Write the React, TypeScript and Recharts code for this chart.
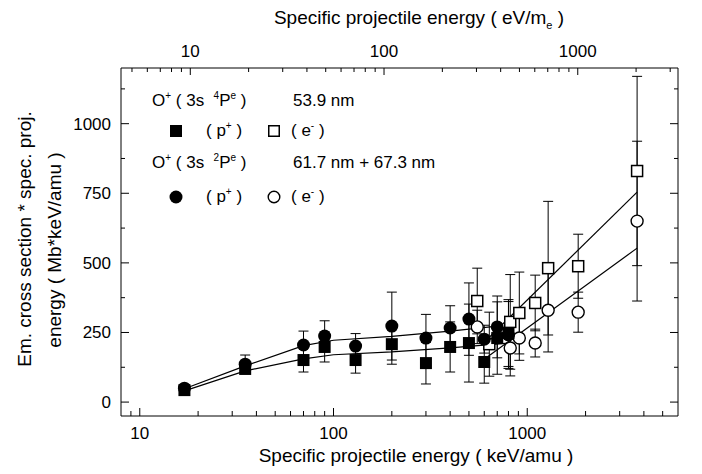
import React from 'react';
import { ScatterChart, Scatter, XAxis, YAxis, ErrorBar } from 'recharts';

// keV/amu -> eV/m_e
const KEV_AMU_TO_EV_ME = 1000 / 1822.888;

const xDomain = [8, 6000];
const yDomain = [-50, 1200];

const bottomTicks = [9, 10, 20, 30, 40, 50, 60, 70, 80, 90, 100, 200, 300, 400, 500, 600, 700, 800, 900, 1000, 2000, 3000, 4000, 5000];
const topTicks = [5, 6, 7, 8, 9, 10, 20, 30, 40, 50, 60, 70, 80, 90, 100, 200, 300, 400, 500, 600, 700, 800, 900, 1000, 2000, 3000];
const yTicks = [0, 125, 250, 375, 500, 625, 750, 875, 1000, 1125];

// O+ (3s 4Pe) 53.9 nm, proton impact
const p4PEnergy = [17, 35, 70, 90, 130, 200, 300, 400, 500, 600, 700, 800];
const p4PValue = [43, 119, 151, 198, 151, 208, 140, 198, 212, 144, 230, 248];
const p4PError = [8, 15, 43, 54, 47, 72, 75, 90, 140, 76, 130, 120];

// O+ (3s 2Pe) 61.7 + 67.3 nm, proton impact
const p2PEnergy = [17, 35, 70, 90, 130, 200, 300, 400, 500, 600, 700, 800];
const p2PValue = [50, 136, 205, 237, 201, 273, 230, 266, 298, 226, 270, 241];
const p2PError = [8, 33, 50, 55, 45, 122, 85, 80, 130, 50, 111, 120];

// electron impact
const e4PEnergy = [552, 637, 817, 910, 1099, 1282, 1832, 3690];
const e4PValue = [363, 208, 288, 320, 356, 481, 488, 830];
const e4PError = [118, 115, 170, 147, 100, 240, 115, 340];

const e2PEnergy = [552, 817, 910, 1099, 1282, 1832, 3690];
const e2PValue = [270, 194, 230, 212, 330, 323, 650];
const e2PError = [60, 100, 80, 50, 150, 72, 287];

// fitted curves
const fitP4PEnergy = [17, 35, 70, 100, 200, 400, 800];
const fitP4PValue = [40, 112, 155, 170, 180, 195, 212];
const fitP2PEnergy = [17, 35, 70, 100, 200, 400, 700];
const fitP2PValue = [48, 130, 203, 222, 236, 255, 273];
const fitE4PEnergy = [580, 3690];
const fitE4PValue = [205, 754];
const fitE2PEnergy = [573, 3690];
const fitE2PValue = [144, 553];

const toRows = (xs: number[], ys: number[], errs?: number[]) =>
  xs.map((x, i) => ({ x, y: ys[i], err: errs ? errs[i] : 0 }));

const FONT = '"Liberation Sans", Arial, sans-serif';

const isDecade = (v: number) => Math.abs(Math.log10(v) - Math.round(Math.log10(v))) < 1e-9;

const BottomTick = (props: any) => {
  const { x, y, payload } = props;
  const major = isDecade(payload.value);
  return (
    <g>
      <line x1={x} x2={x} y1={y} y2={y - (major ? 8 : 5)} stroke="#000" strokeWidth={1} />
      {major && (
        <text x={x} y={y + 23} textAnchor="middle" fontSize={17} fontFamily={FONT} fill="#000">
          {payload.value}
        </text>
      )}
    </g>
  );
};

const TopTick = (props: any) => {
  const { x, y, payload } = props;
  const major = isDecade(payload.value);
  return (
    <g>
      <line x1={x} x2={x} y1={y} y2={y + (major ? 7 : 4)} stroke="#000" strokeWidth={1} />
      {major && (
        <text x={x} y={y - 11} textAnchor="middle" fontSize={17} fontFamily={FONT} fill="#000">
          {payload.value}
        </text>
      )}
    </g>
  );
};

const LeftTick = (props: any) => {
  const { x, y, payload } = props;
  const major = payload.value % 250 === 0;
  return (
    <g>
      <line x1={x} x2={x + (major ? 8 : 4)} y1={y} y2={y} stroke="#000" strokeWidth={1} />
      {major && (
        <text x={x - 10} y={y + 6} textAnchor="end" fontSize={17} fontFamily={FONT} fill="#000">
          {payload.value}
        </text>
      )}
    </g>
  );
};

const RightTick = (props: any) => {
  const { x, y, payload } = props;
  const major = payload.value % 250 === 0;
  return <line x1={x} x2={x - (major ? 8 : 4)} y1={y} y2={y} stroke="#000" strokeWidth={1} />;
};

const FilledSquare = ({ cx, cy }: any) => <rect x={cx - 6} y={cy - 6} width={12} height={12} fill="#000" />;
const OpenSquare = ({ cx, cy }: any) => (
  <rect x={cx - 5.5} y={cy - 5.5} width={11} height={11} fill="#fff" stroke="#000" strokeWidth={1.5} />
);
const FilledCircle = ({ cx, cy }: any) => <circle cx={cx} cy={cy} r={6.5} fill="#000" />;
const OpenCircle = ({ cx, cy }: any) => <circle cx={cx} cy={cy} r={6} fill="#fff" stroke="#000" strokeWidth={1.4} />;
const NoShape = () => <g />;

const lineStyle = { stroke: '#000', strokeWidth: 1.2 };

const Sup = ({ children }: { children: React.ReactNode }) => (
  <span style={{ fontSize: 10, position: 'relative', top: -7 }}>{children}</span>
);

export default function App() {
  const text: React.CSSProperties = { position: 'absolute', fontFamily: FONT, fontSize: 17, color: '#000', whiteSpace: 'nowrap', lineHeight: '20px' };
  return (
    <div style={{ position: 'absolute', left: 0, top: 0, width: 702, height: 474, background: '#fff' }}>
      <ScatterChart width={702} height={474} margin={{ top: 0, right: 0, bottom: 0, left: 0 }}>
        <XAxis
          xAxisId="bottom"
          dataKey="x"
          type="number"
          scale="log"
          domain={xDomain}
          allowDataOverflow
          ticks={bottomTicks}
          interval={0}
          height={58}
          tickSize={0}
          tickMargin={0}
          axisLine={{ stroke: '#000' }}
          tick={<BottomTick />}
        />
        <XAxis
          xAxisId="top"
          dataKey="x"
          orientation="top"
          type="number"
          scale="log"
          domain={[xDomain[0] * KEV_AMU_TO_EV_ME, xDomain[1] * KEV_AMU_TO_EV_ME]}
          allowDataOverflow
          ticks={topTicks}
          interval={0}
          height={68}
          tickSize={0}
          tickMargin={0}
          axisLine={{ stroke: '#000' }}
          tick={<TopTick />}
        />
        <YAxis
          yAxisId="left"
          dataKey="y"
          type="number"
          domain={yDomain}
          allowDataOverflow
          ticks={yTicks}
          interval={0}
          width={121}
          tickSize={0}
          tickMargin={0}
          axisLine={{ stroke: '#000' }}
          tick={<LeftTick />}
        />
        <YAxis
          yAxisId="right"
          dataKey="y"
          orientation="right"
          type="number"
          domain={yDomain}
          allowDataOverflow
          ticks={yTicks}
          interval={0}
          width={24}
          tickSize={0}
          tickMargin={0}
          axisLine={{ stroke: '#000' }}
          tick={<RightTick />}
        />
        <Scatter
          xAxisId="top"
          yAxisId="right"
          data={[{ x: 10, y: 0 }]}
          shape={<NoShape />}
          isAnimationActive={false}
        />

        <Scatter xAxisId="bottom" yAxisId="left" data={toRows(fitP4PEnergy, fitP4PValue)} line={lineStyle} shape={<NoShape />} isAnimationActive={false} />
        <Scatter xAxisId="bottom" yAxisId="left" data={toRows(fitP2PEnergy, fitP2PValue)} line={lineStyle} shape={<NoShape />} isAnimationActive={false} />
        <Scatter xAxisId="bottom" yAxisId="left" data={toRows(fitE4PEnergy, fitE4PValue)} line={lineStyle} shape={<NoShape />} isAnimationActive={false} />
        <Scatter xAxisId="bottom" yAxisId="left" data={toRows(fitE2PEnergy, fitE2PValue)} line={lineStyle} shape={<NoShape />} isAnimationActive={false} />

        <Scatter xAxisId="bottom" yAxisId="left" data={toRows(e4PEnergy, e4PValue, e4PError)} shape={<OpenSquare />} isAnimationActive={false}>
          <ErrorBar dataKey="err" direction="y" width={5} stroke="#000" strokeWidth={1} />
        </Scatter>
        <Scatter xAxisId="bottom" yAxisId="left" data={toRows(e2PEnergy, e2PValue, e2PError)} shape={<OpenCircle />} isAnimationActive={false}>
          <ErrorBar dataKey="err" direction="y" width={5} stroke="#000" strokeWidth={1} />
        </Scatter>
        <Scatter xAxisId="bottom" yAxisId="left" data={toRows(p2PEnergy, p2PValue, p2PError)} shape={<FilledCircle />} isAnimationActive={false}>
          <ErrorBar dataKey="err" direction="y" width={5} stroke="#000" strokeWidth={1} />
        </Scatter>
        <Scatter xAxisId="bottom" yAxisId="left" data={toRows(p4PEnergy, p4PValue, p4PError)} shape={<FilledSquare />} isAnimationActive={false}>
          <ErrorBar dataKey="err" direction="y" width={5} stroke="#000" strokeWidth={1} />
        </Scatter>
      </ScatterChart>

      {/* axis titles */}
      <div style={{ ...text, fontSize: 19, left: 0, width: 702, top: 8, textAlign: 'center', paddingLeft: 136, boxSizing: 'border-box' }}>
        Specific projectile energy ( eV/m<span style={{ fontSize: 11, position: 'relative', top: 5 }}>e</span> )
      </div>
      <div style={{ ...text, fontSize: 19, left: 0, width: 702, top: 446, textAlign: 'center', paddingLeft: 130, boxSizing: 'border-box' }}>
        Specific projectile energy ( keV/amu )
      </div>
      <div style={{ ...text, fontSize: 19, left: 25 - 200, top: 239 - 10, width: 400, textAlign: 'center', transform: 'rotate(-90deg)' }}>
        Em. cross section * spec. proj.
      </div>
      <div style={{ ...text, fontSize: 19, left: 55 - 200, top: 250 - 10, width: 400, textAlign: 'center', transform: 'rotate(-90deg)' }}>
        energy ( Mb*keV/amu )
      </div>

      {/* legend */}
      <div style={{ ...text, left: 152, top: 91 }}>
        O<Sup>+</Sup> ( 3s &nbsp;<Sup>4</Sup>P<Sup>e</Sup> )
      </div>
      <div style={{ ...text, left: 293, top: 91 }}>53.9 nm</div>
      <svg style={{ position: 'absolute', left: 170, top: 125 }} width={12} height={12}>
        <rect x={0} y={0} width={12} height={12} fill="#000" />
      </svg>
      <div style={{ ...text, left: 206, top: 121 }}>
        ( p<Sup>+</Sup> )
      </div>
      <svg style={{ position: 'absolute', left: 268, top: 125 }} width={12} height={12}>
        <rect x={0.75} y={0.75} width={10.5} height={10.5} fill="#fff" stroke="#000" strokeWidth={1.5} />
      </svg>
      <div style={{ ...text, left: 291, top: 121 }}>
        ( e<Sup>-</Sup> )
      </div>
      <div style={{ ...text, left: 152, top: 153 }}>
        O<Sup>+</Sup> ( 3s &nbsp;<Sup>2</Sup>P<Sup>e</Sup> )
      </div>
      <div style={{ ...text, left: 293, top: 153 }}>61.7 nm + 67.3 nm</div>
      <svg style={{ position: 'absolute', left: 169, top: 190 }} width={14} height={14}>
        <circle cx={7} cy={7} r={6.5} fill="#000" />
      </svg>
      <div style={{ ...text, left: 206, top: 187 }}>
        ( p<Sup>+</Sup> )
      </div>
      <svg style={{ position: 'absolute', left: 267, top: 190 }} width={14} height={14}>
        <circle cx={7} cy={7} r={5.8} fill="#fff" stroke="#000" strokeWidth={1.4} />
      </svg>
      <div style={{ ...text, left: 291, top: 187 }}>
        ( e<Sup>-</Sup> )
      </div>
    </div>
  );
}
